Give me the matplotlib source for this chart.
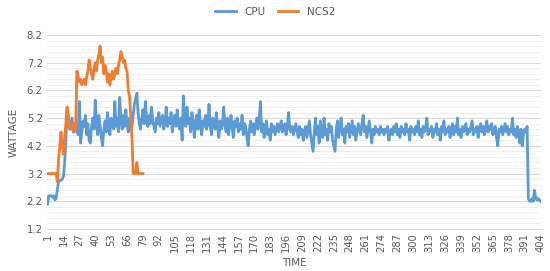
import numpy as np
import matplotlib.pyplot as plt
from matplotlib.ticker import MultipleLocator

# wattage readings, one per time step
cpu = [2.1, 2.4, 2.4, 2.4, 2.35, 2.4, 2.25, 2.3, 2.6, 2.9,
       2.95, 2.95, 3.0, 3.1, 3.6, 4.4, 5.5, 5.2, 4.8, 5.0,
       5.2, 4.7, 5.0, 4.9, 4.8, 4.6, 5.8, 4.3, 4.7, 5.1,
       4.9, 5.3, 4.6, 5.0, 4.4, 4.3, 4.9, 5.2, 4.8, 5.85,
       5.0, 4.6, 5.3, 4.9, 4.5, 4.2, 4.8, 5.1, 4.7, 5.4,
       4.9, 4.6, 5.2, 5.0, 4.8, 5.8, 4.9, 5.2, 4.7, 5.95,
       5.1, 4.8, 5.3, 4.9, 5.5, 5.0, 4.7, 5.2, 4.8, 4.9,
       5.3, 5.7, 5.9, 6.1, 5.4, 5.0, 4.8, 5.2, 5.5, 5.0,
       5.8, 5.1, 4.9, 5.3, 5.0, 5.6, 5.1, 4.9, 4.7, 5.2,
       5.0, 5.4, 4.9, 5.1, 5.3, 4.8, 5.0, 5.6, 4.9, 5.2,
       5.0, 5.4, 4.7, 5.1, 5.3, 4.9, 5.5, 5.0, 4.8, 5.2,
       4.4, 6.0, 5.1, 4.9, 5.6, 5.0, 5.2, 4.7, 5.4, 5.1,
       4.5, 5.0, 5.3, 4.8, 5.5, 5.0, 4.6, 5.1, 4.9, 5.3,
       4.8, 5.0, 5.7, 4.9, 4.6, 5.2, 5.0, 4.8, 5.4, 4.9,
       4.5, 5.1, 4.8, 5.0, 5.6, 4.9, 4.7, 5.2, 4.6, 5.0,
       5.3, 4.8, 4.5, 5.1, 4.9, 5.2, 4.7, 5.0, 4.8, 5.3,
       4.6, 5.0, 4.9, 4.5, 4.2, 4.8, 5.1, 4.7, 5.0, 4.6,
       4.9, 5.2, 4.8, 5.1, 5.8, 4.7, 5.0, 4.5, 4.9, 5.1,
       4.6, 4.8, 4.4, 5.0, 4.7, 4.9, 4.6, 4.8, 5.0, 4.7,
       4.9, 5.1, 4.7, 4.8, 5.0, 4.6, 4.9, 5.4, 4.8, 4.7,
       4.9, 4.6, 4.8, 5.0, 4.7, 4.5, 4.9, 4.6, 4.8, 4.4,
       4.7, 4.9, 4.5, 4.8, 5.1, 4.6, 4.3, 4.0, 4.7, 5.2,
       4.6, 4.9, 4.3, 5.1, 4.7, 4.5, 5.2, 4.6, 4.8, 4.4,
       5.0, 4.7, 4.9, 4.4, 4.2, 4.0, 4.8, 5.1, 4.5, 4.9,
       5.2, 4.6, 4.8, 4.3, 4.9, 4.7, 5.0, 4.5, 4.8, 5.1,
       4.6, 4.9, 4.4, 4.7, 5.0, 4.8, 4.6, 5.0, 5.3, 4.7,
       4.9, 4.5, 4.8, 5.1, 4.7, 4.3, 4.8, 4.6, 4.9, 4.7,
       4.8, 4.6, 4.9, 4.7, 4.8, 4.6, 4.8, 4.7, 4.9, 4.4,
       4.7, 4.8, 4.6, 4.9, 4.7, 5.0, 4.6, 4.8, 4.5, 4.9,
       4.7, 4.8, 4.6, 5.0, 4.7, 4.8, 4.4, 4.9, 4.7, 4.8,
       4.6, 4.9, 4.7, 5.1, 4.6, 4.8, 4.5, 4.9, 4.7, 4.8,
       5.2, 4.6, 4.8, 4.7, 4.9, 4.5, 4.8, 4.7, 5.0, 4.6,
       4.8, 4.4, 4.9, 4.7, 5.1, 4.6, 4.8, 4.7, 4.9, 4.5,
       4.8, 5.0, 4.6, 4.9, 4.7, 5.2, 4.6, 4.8, 4.5, 4.9,
       4.7, 4.8, 5.0, 4.6, 4.8, 4.7, 4.9, 5.1, 4.6, 4.8,
       4.7, 4.9, 4.5, 4.8, 5.0, 4.7, 4.9, 4.6, 4.8, 5.1,
       4.7, 4.9, 4.8, 5.0, 4.6, 4.8, 4.9, 4.5, 4.2, 4.8,
       4.7, 4.9, 4.6, 4.8, 5.0, 4.7, 4.9, 4.6, 4.8, 4.7,
       5.2, 4.6, 4.8, 4.5, 4.9, 4.7, 4.3, 4.8, 4.2, 4.6,
       4.8, 4.7, 4.9, 2.3, 2.2, 2.2, 2.3, 2.2, 2.6, 2.3,
       2.25, 2.3, 2.25, 2.2]

ncs2 = [3.2, 3.2, 3.2, 3.2, 3.2, 3.2, 3.2, 3.2, 2.9, 3.7,
        4.2, 4.7, 4.2, 3.9, 4.5, 5.0, 5.6, 5.2, 4.9, 4.8,
        5.0, 4.8, 4.7, 4.8, 6.9, 6.7, 6.5, 6.6, 6.4, 6.5,
        6.6, 6.4, 6.7, 6.9, 7.3, 7.0, 6.8, 6.6, 7.0, 7.2,
        6.9, 7.3, 7.5, 7.8, 7.2, 7.4, 6.8, 7.1, 6.9, 6.5,
        6.8, 6.4, 6.7, 6.9, 6.6, 6.8, 7.0, 6.8, 7.1, 7.3,
        7.6, 7.4, 7.2, 7.3, 7.0, 6.9, 6.2, 6.0, 5.3, 4.5,
        3.2, 3.2, 3.2, 3.6, 3.2, 3.2, 3.2, 3.2, 3.2]

x_cpu = np.arange(1, len(cpu) + 1)
x_ncs = np.arange(1, len(ncs2) + 1)
xticks = np.arange(1, 405, 13)

fig = plt.figure(figsize=(5.5, 2.71), dpi=100)
ax = fig.add_axes([0.0853, 0.155, 0.8987, 0.716])

ax.plot(x_cpu, cpu, color='#5B9BD5', lw=2.0, label='CPU')
ax.plot(x_ncs, ncs2, color='#ED7D31', lw=2.0, label='NCS2')

ax.set_xlim(0.5, 404.5)
ax.set_ylim(1.2, 8.2)
ax.set_yticks(np.arange(1.2, 8.3, 1.0))
ax.set_yticklabels([f'{v:.1f}' for v in np.arange(1.2, 8.3, 1.0)])
ax.yaxis.set_minor_locator(MultipleLocator(0.2))
ax.set_xticks(xticks)
ax.set_xticklabels([str(t) for t in xticks], rotation=90)

ax.grid(True, which='major', axis='y', color='#D9D9D9', lw=0.8)
ax.grid(True, which='minor', axis='y', color='#EDEDED', lw=0.6)
ax.set_axisbelow(True)
for s in ['top', 'right', 'left']:
    ax.spines[s].set_visible(False)
ax.spines['bottom'].set_color('#D9D9D9')
ax.tick_params(axis='both', which='both', length=0, labelsize=7.2,
               colors='#595959', pad=3)

ax.set_xlabel('TIME', fontsize=7.5, color='#595959', labelpad=4)
ax.set_ylabel('WATTAGE', fontsize=7.5, color='#595959', labelpad=6)

fig.legend(loc='upper center', bbox_to_anchor=(0.5, 1.01), ncol=2,
           frameon=False, fontsize=7.5, handlelength=2.0, columnspacing=1.2,
           labelcolor='#595959')

fig.savefig('out.png', dpi=100)
